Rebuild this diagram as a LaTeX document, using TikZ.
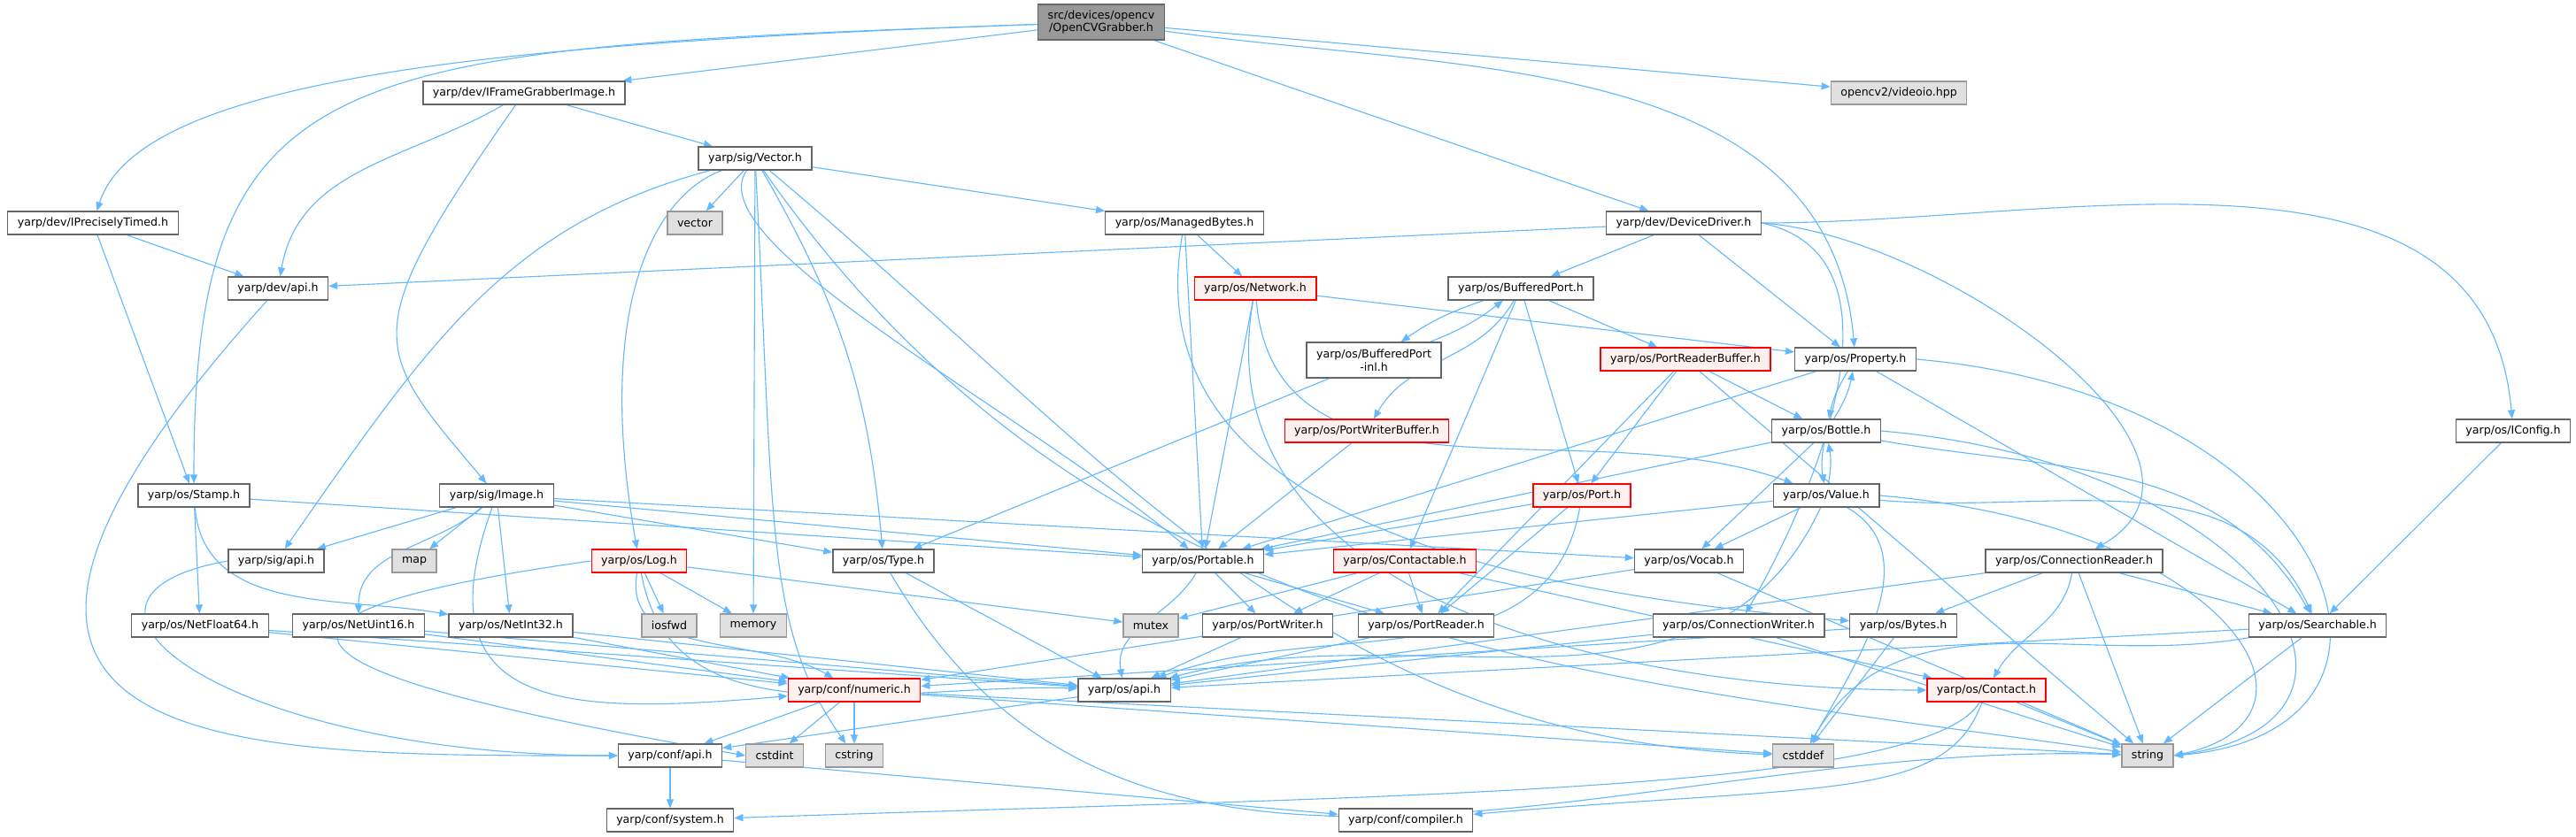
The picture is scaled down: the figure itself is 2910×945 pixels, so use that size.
\documentclass[tikz,border=0pt]{standalone}
\usepackage{fontspec}
\setmainfont{DejaVu Sans}
\usetikzlibrary{arrows.meta, backgrounds}
\definecolor{edgecol}{HTML}{63B8FF}
\definecolor{framecol}{HTML}{666666}
\definecolor{extcol}{HTML}{E0E0E0}
\definecolor{extframe}{HTML}{999999}
\definecolor{rootcol}{HTML}{999999}
\definecolor{redfill}{HTML}{FFF0F0}
\definecolor{redframe}{HTML}{FF0000}

\begin{document}
\begin{tikzpicture}[x=0.25pt, y=-0.25pt,
  box/.style={draw=framecol, fill=white, line width=0.33pt, minimum height=6.5pt,
    inner xsep=2.75pt, inner ysep=0pt, font=\fontsize{3.15}{3.625}\selectfont, align=center},
  redbox/.style={box, draw=redframe, fill=redfill},
  extbox/.style={box, draw=extframe, fill=extcol},
  rootbox/.style={box, fill=rootcol, minimum height=10pt},
  conn/.style={-{Triangle[length=2.5pt, width=2pt]}, draw=edgecol, line width=0.28pt},
]
\useasboundingbox (0,0) rectangle (2910,945);

% =================== headers ===================
\node[rootbox] (root) at (1244,25) {src/devices/opencv\\/OpenCVGrabber.h};
\node[box] (ifg) at (592,105) {yarp/dev/IFrameGrabberImage.h};
\node[extbox] (videoio) at (2145,105) {opencv2/videoio.hpp};
\node[box] (vec) at (853,179) {yarp/sig/Vector.h};
\node[box] (ipt) at (105,252) {yarp/dev/IPreciselyTimed.h};
\node[extbox] (vector) at (785,252) {vector};
\node[box] (mb) at (1338,252) {yarp/os/ManagedBytes.h};
\node[box] (dd) at (1902,252) {yarp/dev/DeviceDriver.h};
\node[box] (devapi) at (314,326) {yarp/dev/api.h};
\node[redbox] (net) at (1418,326) {yarp/os/Network.h};
\node[box] (bp) at (1718,326) {yarp/os/BufferedPort.h};
\node[box, minimum height=10pt] (bpinl) at (1552,407) {yarp/os/BufferedPort\\-inl.h};
\node[redbox] (prb) at (1904,406) {yarp/os/PortReaderBuffer.h};
\node[box] (prop) at (2096,406) {yarp/os/Property.h};
\node[redbox] (pwb) at (1544,487) {yarp/os/PortWriterBuffer.h};
\node[box] (bottle) at (2063,487) {yarp/os/Bottle.h};
\node[box] (iconfig) at (2839,487) {yarp/os/IConfig.h};
\node[box] (stamp) at (219,560) {yarp/os/Stamp.h};
\node[box] (image) at (561,560) {yarp/sig/Image.h};
\node[redbox] (port) at (1787,560) {yarp/os/Port.h};
\node[box] (value) at (2063,560) {yarp/os/Value.h};
\node[box] (sigapi) at (312,634) {yarp/sig/api.h};
\node[extbox] (map) at (468,634) {map};
\node[redbox] (log) at (722,634) {yarp/os/Log.h};
\node[box] (type) at (998,634) {yarp/os/Type.h};
\node[box] (portable) at (1359,634) {yarp/os/Portable.h};
\node[redbox] (contactable) at (1587,634) {yarp/os/Contactable.h};
\node[box] (vocab) at (1908,634) {yarp/os/Vocab.h};
\node[box] (creader) at (2343,634) {yarp/os/ConnectionReader.h};
\node[box] (nf64) at (226,707) {yarp/os/NetFloat64.h};
\node[box] (nu16) at (405,707) {yarp/os/NetUint16.h};
\node[box] (ni32) at (577,707) {yarp/os/NetInt32.h};
\node[extbox] (iosfwd) at (756,707) {iosfwd};
\node[extbox] (memory) at (851,707) {memory};
\node[extbox] (mutex) at (1300,707) {mutex};
\node[box] (pw) at (1432,707) {yarp/os/PortWriter.h};
\node[box] (pr) at (1611,707) {yarp/os/PortReader.h};
\node[box] (cw) at (1964,707) {yarp/os/ConnectionWriter.h};
\node[box] (bytes) at (2150,707) {yarp/os/Bytes.h};
\node[box] (search) at (2618,707) {yarp/os/Searchable.h};
\node[redbox] (numeric) at (965,780) {yarp/conf/numeric.h};
\node[box] (osapi) at (1270,780) {yarp/os/api.h};
\node[redbox] (contact) at (2244,780) {yarp/os/Contact.h};
\node[box] (confapi) at (757,854) {yarp/conf/api.h};
\node[extbox] (cstdint) at (875,854) {cstdint};
\node[extbox] (cstring) at (965,854) {cstring};
\node[extbox] (cstddef) at (2037,854) {cstddef};
\node[extbox] (string) at (2426,854) {string};
\node[box] (system) at (757,927) {yarp/conf/system.h};
\node[box] (compiler) at (1588,927) {yarp/conf/compiler.h};

\begin{scope}[on background layer]
% from the grabber
\draw[conn] (root) to[out=182, in=72, out distance=150pt, in distance=40pt] (ipt);
\draw[conn] (root) to[out=182, in=90, out distance=200pt, in distance=120pt] (stamp);
\draw[conn] (root) -- (ifg);
\draw[conn] (root) -- (dd);
\draw[conn] (root) -- (videoio);
\draw[conn] (root) to[out=-8, in=95] (prop);

% dev interfaces
\draw[conn] (ifg) to[out=-150, in=80] (devapi);
\draw[conn] (ifg) to[out=-125, in=130, out distance=80pt, in distance=50pt] (image);
\draw[conn] (ifg) -- (vec);
\draw[conn] (ipt) -- (devapi);
\draw[conn] (ipt) -- (stamp);
\draw[conn] (devapi) to[out=-132, in=180, out distance=175pt, in distance=110pt] (confapi);
\draw[conn] (dd) -- (devapi);
\draw[conn] (dd) -- (bp);
\draw[conn] (dd) -- (prop);
\draw[conn] (dd.east) to[out=0, in=95] (iconfig);
\draw[conn] (dd.east) to[out=-4, in=30] (creader);
\draw[conn] (dd.east) to[out=-12, in=60] (cw);

% Vector.h
\draw[conn] (vec) to[out=195, in=55, out distance=60pt, in distance=70pt] (sigapi);
\draw[conn] (vec) to[out=200, in=100, out distance=20pt, in distance=70pt] (log);
\draw[conn] (vec) -- (vector);
\draw[conn] (vec) -- (memory);
\draw[conn] (vec) to[out=-87, in=125, out distance=100pt, in distance=40pt] (cstring);
\draw[conn] (vec) to[out=-60, in=95] (type);
\draw[conn] (vec) to[out=-125, in=140, out distance=25pt, in distance=60pt] (portable);
\draw[conn] (vec) -- (mb);
\draw[conn] (vec) to[out=-55, in=172] (string);
\draw[conn] (vec) to[out=-40, in=178] (cstddef);

% ManagedBytes / Network
\draw[conn] (mb) -- (net);
\draw[conn] (mb) -- (portable);
\draw[conn] (mb) to[out=-100, in=175] (bytes);
\draw[conn] (net) -- (portable);
\draw[conn] (net) -- (prop);
\draw[conn] (net) to[out=-85, in=160] (value);
\draw[conn] (net) to[out=-100, in=180] (contact);

% BufferedPort
\draw[conn] (bp) to[bend right=8] (bpinl);
\draw[conn] (bpinl) to[bend right=8] (bp);
\draw[conn] (bp) to[out=-120, in=60] (pwb);
\draw[conn] (bp) -- (contactable);
\draw[conn] (bp) -- (port);
\draw[conn] (bp) -- (prb);
\draw[conn] (bpinl) -- (type);
\draw[conn] (prb) -- (port);
\draw[conn] (prb) -- (pr);
\draw[conn] (prb) -- (bottle);
\draw[conn] (prb) -- (string);
\draw[conn] (pwb) -- (portable);

% Property, Bottle, Value
\draw[conn] (prop) to[bend right=10] (bottle);
\draw[conn] (bottle) to[bend right=10] (prop);
\draw[conn] (prop) -- (portable);
\draw[conn] (prop) -- (search);
\draw[conn] (prop.east) to[out=-5, in=5, out distance=120pt, in distance=80pt] (string.east);
\draw[conn] (bottle) to[bend right=10] (value);
\draw[conn] (value) to[bend right=10] (bottle);
\draw[conn] (bottle) -- (portable);
\draw[conn] (bottle) -- (vocab);
\draw[conn] (bottle) to[out=-10, in=120] (search);
\draw[conn] (bottle.east) to[out=-5, in=8, out distance=110pt, in distance=70pt] (string.east);
\draw[conn] (value) -- (portable);
\draw[conn] (value) -- (vocab);
\draw[conn] (value) to[out=-5, in=115] (search);
\draw[conn] (value.east) to[out=-5, in=12, out distance=100pt, in distance=50pt] (string.east);
\draw[conn] (value) to[out=-30, in=60] (cstddef);
\draw[conn] (value) to[out=-115, in=15] (osapi);

% Port, Contactable
\draw[conn] (port) -- (portable);
\draw[conn] (port) -- (pr);
\draw[conn] (port) to[out=-100, in=20] (osapi);
\draw[conn] (contactable) -- (mutex);
\draw[conn] (contactable) -- (pw);
\draw[conn] (contactable) -- (pr);
\draw[conn] (contactable) -- (contact);

% Stamp, Image
\draw[conn] (stamp) -- (portable);
\draw[conn] (stamp) -- (nf64);
\draw[conn] (stamp) to[out=-85, in=170] (ni32);
\draw[conn] (image) -- (sigapi);
\draw[conn] (image) -- (map);
\draw[conn] (image) to[out=-140, in=90] (nu16);
\draw[conn] (image) -- (ni32);
\draw[conn] (image) -- (portable);
\draw[conn] (image) -- (type);
\draw[conn] (image) -- (vocab);
\draw[conn] (image) to[out=-110, in=185, looseness=1.6] (numeric);
\draw[conn] (sigapi.west) to[out=190, in=180, out distance=60pt, in distance=110pt] (confapi.west);

% Log
\draw[conn] (log) -- (iosfwd);
\draw[conn] (log) -- (memory);
\draw[conn] (log) -- (mutex);
\draw[conn] (log) to[out=-100, in=150] (numeric);
\draw[conn] (log) to[out=-80, in=178] (osapi);
\draw[conn] (log.west) to[out=188, in=170, out distance=130pt, in distance=110pt] (cstdint.west);

% os basics
\draw[conn] (type) -- (osapi);
\draw[conn] (type) to[out=-60, in=178] (string);
\draw[conn] (portable) to[out=-120, in=100] (osapi);
\draw[conn] (portable) -- (pw);
\draw[conn] (portable) -- (pr);
\draw[conn] (pw) -- (osapi);
\draw[conn] (pr) -- (osapi);
\draw[conn] (vocab) -- (numeric);
\draw[conn] (vocab) -- (string);
\draw[conn] (creader) -- (bytes);
\draw[conn] (creader) -- (search);
\draw[conn] (creader) -- (string);
\draw[conn] (creader) to[out=-100, in=60] (contact);
\draw[conn] (creader) -- (osapi);
\draw[conn] (cw) -- (osapi);
\draw[conn] (cw) -- (string);
\draw[conn] (bytes) -- (numeric);
\draw[conn] (bytes) -- (cstddef);
\draw[conn] (search) -- (osapi);
\draw[conn] (search) to[out=190, in=60] (cstddef);
\draw[conn] (search) -- (string);
\draw[conn] (iconfig) -- (search);
\draw[conn] (nf64) -- (numeric);
\draw[conn] (nf64) -- (osapi);
\draw[conn] (nu16) -- (numeric);
\draw[conn] (nu16) -- (osapi);
\draw[conn] (ni32) -- (numeric);
\draw[conn] (ni32) -- (osapi);

% conf
\draw[conn] (numeric) -- (confapi);
\draw[conn] (numeric) -- (cstdint);
\draw[conn] (numeric) -- (cstring);
\draw[conn] (numeric) -- (cstddef);
\draw[conn] (numeric) -- (string);
\draw[conn] (osapi) -- (confapi);
\draw[conn] (contact) -- (string);
\draw[conn] (contact) to[out=-120, in=2, out distance=30pt, in distance=180pt] (system);
\draw[conn] (contact) to[out=-110, in=5, out distance=30pt, in distance=100pt] (compiler);
\draw[conn] (confapi) -- (system);
\draw[conn] (confapi) -- (compiler);
\end{scope}

\end{tikzpicture}
\end{document}
